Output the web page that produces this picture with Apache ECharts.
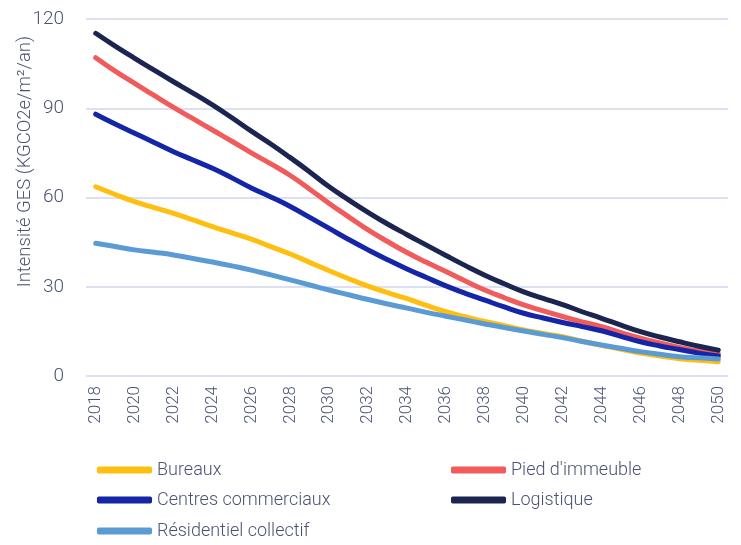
<!DOCTYPE html>
<html>
<head>
<meta charset="utf-8">
<script src="https://cdn.jsdelivr.net/npm/echarts@6/dist/echarts.min.js"></script>
<style>
  html, body { margin: 0; padding: 0; background: #ffffff; }
  #chart { width: 741px; height: 545px; }
</style>
</head>
<body>
<div id="chart"></div>
<script>
// Years on the horizontal axis (one band per year, labels every other year)
const years = ['2018','2019','2020','2021','2022','2023','2024','2025','2026','2027','2028','2029','2030','2031','2032','2033','2034','2035','2036','2037','2038','2039','2040','2041','2042','2043','2044','2045','2046','2047','2048','2049','2050'];

// GHG intensity trajectories (kgCO2e/m²/an), one value per year 2018–2050
const bureaux      = [63.6,61.0,58.6,56.6,54.7,52.5,50.2,48.1,46.0,43.5,41.0,38.2,35.4,32.7,30.2,28.0,26.0,23.7,21.6,19.9,18.3,16.9,15.5,14.3,13.2,11.7,10.3,9.0,7.7,6.7,5.8,5.3,4.8];
const piedImmeuble = [107.0,102.5,98.4,94.3,90.3,86.5,82.7,78.9,75.0,71.3,67.4,62.8,58.0,53.5,49.1,45.2,41.5,38.2,35.1,31.9,28.9,26.3,23.9,21.9,20.0,18.2,16.6,14.6,12.7,11.1,9.6,8.4,7.4];
const centres      = [88.0,84.7,81.6,78.5,75.4,72.6,69.8,66.6,63.2,60.2,57.0,53.3,49.6,45.9,42.4,39.1,36.0,33.1,30.3,27.8,25.5,23.2,21.1,19.5,18.0,16.6,15.2,13.3,11.5,10.1,8.9,7.7,6.7];
const logistique   = [115.2,110.9,106.8,102.8,98.9,95.1,91.1,86.8,82.3,78.0,73.4,68.6,63.6,59.2,55.0,51.1,47.5,44.0,40.5,37.1,33.9,31.0,28.3,26.1,24.0,21.6,19.4,17.1,14.9,13.1,11.5,10.0,8.7];
const residentiel  = [44.6,43.5,42.4,41.6,40.7,39.5,38.3,37.0,35.6,34.0,32.3,30.6,28.9,27.3,25.7,24.2,22.8,21.4,20.1,18.8,17.5,16.3,15.1,14.0,12.9,11.6,10.4,9.3,8.2,7.3,6.5,6.1,5.7];

const yTicks = [0, 30, 60, 90, 120];

const FONT = 'Roboto, "Noto Sans", sans-serif';
const WEIGHT = 300;
const TEXT = '#4b5373';

const seriesDefs = [
  { name: 'Bureaux', data: bureaux, color: '#ffbf10' },
  { name: "Pied d'immeuble", data: piedImmeuble, color: '#f05b5b' },
  { name: 'Centres commerciaux', data: centres, color: '#1425a8' },
  { name: 'Logistique', data: logistique, color: '#1b2550' },
  { name: 'Résidentiel collectif', data: residentiel, color: '#5b9bd5' }
];

// One legend block per entry, laid out in two columns
const legendSlots = [
  { name: 'Bureaux', left: 97, top: 461 },
  { name: "Pied d'immeuble", left: 451, top: 461 },
  { name: 'Centres commerciaux', left: 97, top: 491 },
  { name: 'Logistique', left: 451, top: 491 },
  { name: 'Résidentiel collectif', left: 97, top: 522 }
];

const chart = echarts.init(document.getElementById('chart'), null, { renderer: 'canvas' });

chart.setOption({
  animation: false,
  backgroundColor: '#ffffff',
  grid: { left: 86, right: 13, top: 19, bottom: 169 },
  xAxis: {
    type: 'category',
    data: years,
    boundaryGap: true,
    axisLine: { show: false },
    axisTick: { show: false },
    axisLabel: {
      interval: 1,
      rotate: 90,
      margin: 10,
      fontFamily: FONT,
      fontWeight: WEIGHT,
      fontSize: 17,
      color: TEXT
    }
  },
  yAxis: {
    type: 'value',
    min: yTicks[0],
    max: yTicks[yTicks.length - 1],
    interval: 30,
    axisLine: { show: false },
    axisTick: { show: false },
    axisLabel: { margin: 22, fontFamily: FONT, fontWeight: WEIGHT, fontSize: 19, color: TEXT },
    splitLine: { lineStyle: { color: '#dde0f2', width: 2 } }
  },
  legend: legendSlots.map(slot => ({
    left: slot.left,
    top: slot.top,
    data: [slot.name],
    icon: 'roundRect',
    itemWidth: 55,
    itemHeight: 7,
    padding: 0,
    textStyle: { fontFamily: FONT, fontWeight: WEIGHT, fontSize: 18, color: TEXT }
  })),
  graphic: [{
    type: 'text',
    left: 16,
    top: 36,
    rotation: Math.PI / 2,
    style: {
      text: 'Intensité GES (KGCO2e/m²/an)',
      font: WEIGHT + ' 18.5px ' + FONT,
      fill: TEXT
    }
  }],
  series: seriesDefs.map(s => ({
    name: s.name,
    type: 'line',
    data: s.data,
    smooth: 0.5,
    showSymbol: false,
    symbol: 'none',
    color: s.color,
    lineStyle: { width: 5, color: s.color, cap: 'round', join: 'round' }
  }))
});
</script>
</body>
</html>
